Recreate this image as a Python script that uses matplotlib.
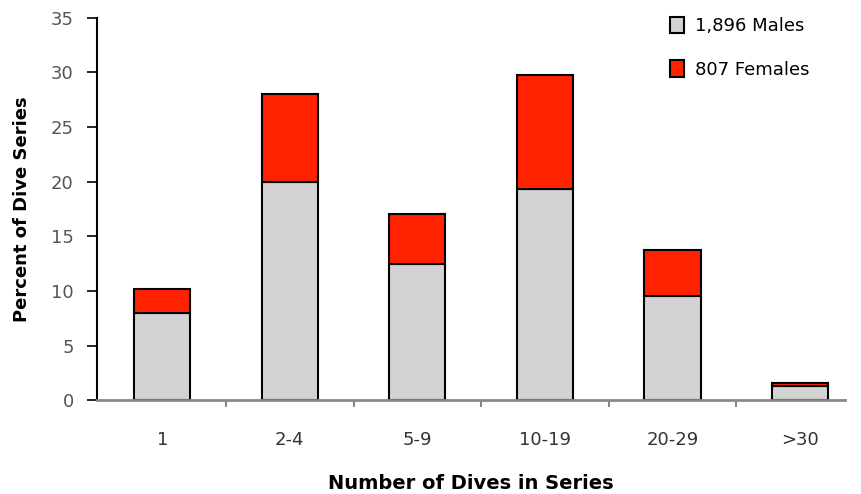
import matplotlib.pyplot as plt
import numpy as np

plt.rcParams['font.family'] = ['DejaVu Sans']

categories = ['1', '2-4', '5-9', '10-19', '20-29', '>30']
males = [8.0, 20.0, 12.5, 19.3, 9.5, 1.3]
females = [2.2, 8.0, 4.5, 10.5, 4.2, 0.3]

x = np.arange(len(categories))

fig = plt.figure(figsize=(8.61, 4.94), dpi=100)
ax = fig.add_axes([0.113, 0.19, 0.868, 0.774])

ax.bar(x, males, width=0.44, color='#d3d3d3', edgecolor='black', linewidth=1.5,
       label='1,896 Males')
ax.bar(x, females, width=0.44, bottom=males, color='#ff2200', edgecolor='black',
       linewidth=1.5, label='807 Females')

ax.set_xlim(-0.51, 5.35)
ax.set_ylim(0, 35)
ax.set_yticks(range(0, 36, 5))
ax.set_xticks(x)
ax.set_xticklabels(categories)
ax.set_xticks(x[:-1] + 0.5, minor=True)
ax.tick_params(axis='x', which='major', length=0, pad=22, labelsize=13, labelcolor='#333333')
ax.tick_params(axis='x', which='minor', length=5, width=1.5, color='#888888')
ax.tick_params(axis='y', length=7, width=1.2, pad=10, labelsize=13, labelcolor='#555555')

for s in ['top', 'right']:
    ax.spines[s].set_visible(False)
ax.spines['left'].set_linewidth(1.5)
ax.spines['bottom'].set_color('#888888')
ax.spines['bottom'].set_linewidth(2)

ax.set_xlabel('Number of Dives in Series', fontsize=14, fontweight='bold', labelpad=18)
ax.set_ylabel('Percent of Dive Series', fontsize=13, fontweight='bold', labelpad=14)

ax.legend(loc='upper right', frameon=False, fontsize=13, handlelength=0.8,
          handleheight=1.0, handletextpad=0.6, labelspacing=1.4,
          bbox_to_anchor=(0.975, 1.045))

fig.savefig('out.png', dpi=100)
